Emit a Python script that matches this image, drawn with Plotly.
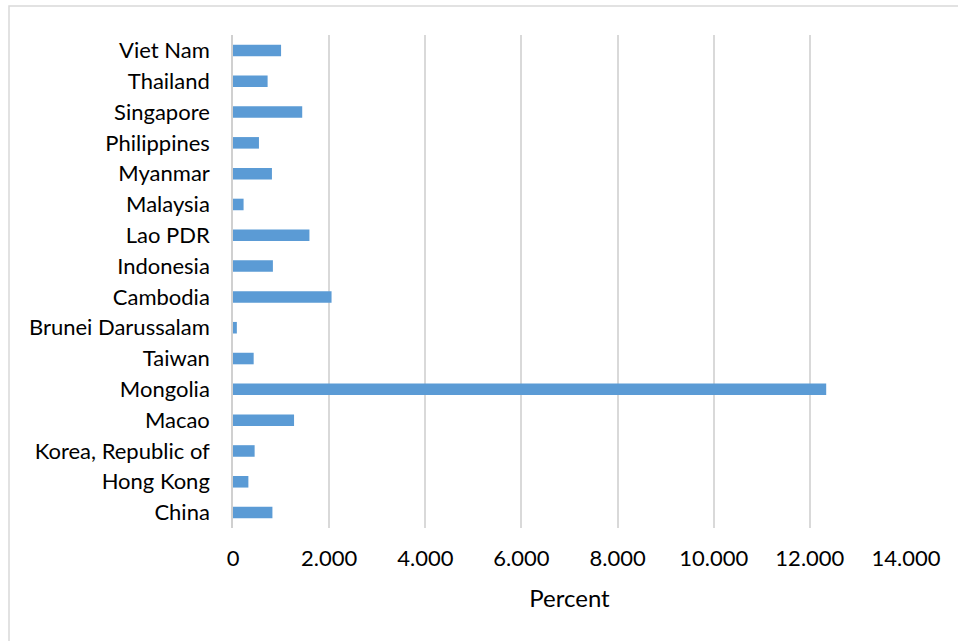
import plotly.graph_objects as go

# Categories listed bottom-to-top as drawn on the category axis
countries = [
    "China", "Hong Kong", "Korea, Republic of", "Macao", "Mongolia", "Taiwan",
    "Brunei Darussalam", "Cambodia", "Indonesia", "Lao PDR", "Malaysia",
    "Myanmar", "Philippines", "Singapore", "Thailand", "Viet Nam",
]
percent = [
    0.82, 0.32, 0.45, 1.27, 12.34, 0.43,
    0.08, 2.05, 0.83, 1.59, 0.22,
    0.81, 0.54, 1.44, 0.72, 1.00,
]
tick_vals = [0, 2, 4, 6, 8, 10, 12, 14]
tick_text = ["0", "2.000", "4.000", "6.000", "8.000", "10.000", "12.000", "14.000"]

FONT = "Lato, 'Open Sans', sans-serif"

fig = go.Figure(
    go.Bar(
        x=percent,
        y=countries,
        orientation="h",
        marker=dict(color="#5B9BD5", line=dict(width=0)),
        width=0.375,
    )
)

L, R, T, B = 233, 52, 35, 113
W, H = 958, 641
pw, ph = W - L - R, H - T - B

fig.update_layout(
    width=W,
    height=H,
    margin=dict(l=L, r=R, t=T, b=B),
    paper_bgcolor="white",
    plot_bgcolor="white",
    showlegend=False,
    font=dict(family=FONT, size=22, color="#000000"),
    xaxis=dict(
        range=[0, 14],
        tickmode="array",
        tickvals=tick_vals,
        ticktext=tick_text,
        showgrid=True,
        gridcolor="#D9D9D9",
        gridwidth=1.5,
        zeroline=False,
        showline=False,
        ticks="",
        ticklabelstandoff=15,
        tickfont=dict(family=FONT, size=22),
        title=dict(text="Percent", font=dict(family=FONT, size=24), standoff=20),
        fixedrange=True,
    ),
    yaxis=dict(
        categoryorder="array",
        categoryarray=countries,
        range=[-0.5, len(countries) - 0.5],
        showgrid=False,
        zeroline=False,
        showline=True,
        linecolor="#D0D0D0",
        linewidth=1.5,
        ticks="",
        ticklabelstandoff=17,
        tickfont=dict(family=FONT, size=22),
        fixedrange=True,
    ),
    shapes=[
        # chart-area frame (top and left edges visible within the page)
        dict(
            type="rect",
            xref="paper",
            yref="paper",
            x0=(9 - L) / pw,
            x1=(W + 20 - L) / pw,
            y0=(H - B - (H + 20)) / ph,
            y1=(H - B - 6) / ph,
            line=dict(color="#D9D9D9", width=1.5),
            fillcolor="rgba(0,0,0,0)",
            layer="below",
        )
    ],
)

fig.write_html("out.html")
